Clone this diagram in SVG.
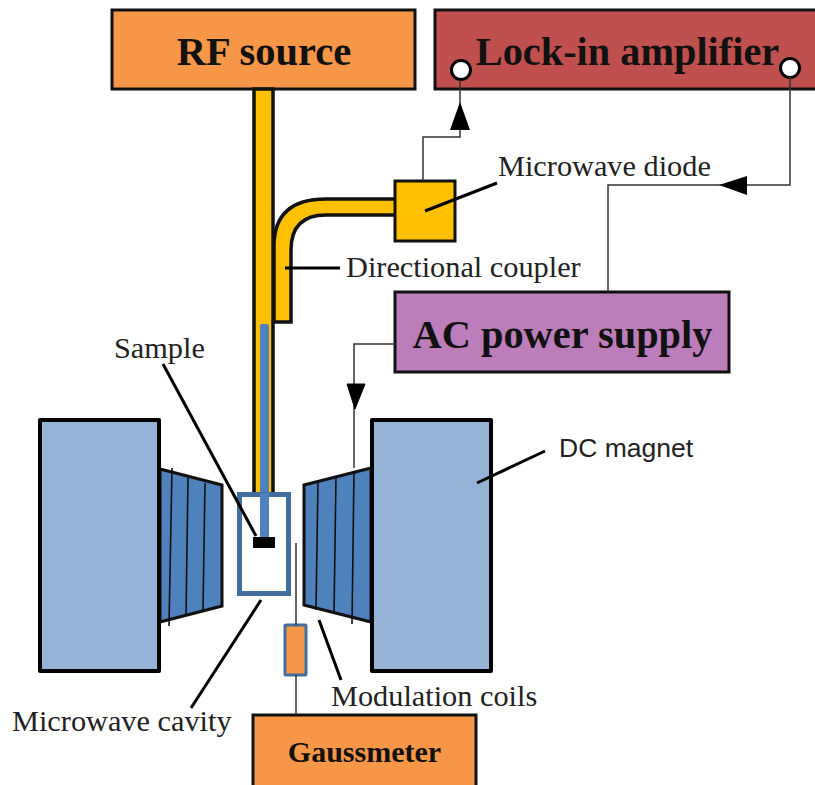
<svg xmlns="http://www.w3.org/2000/svg" width="815" height="785" viewBox="0 0 815 785">
<style>
text{font-family:"Liberation Serif",serif;fill:#222}
.b{font-weight:bold;fill:#111}
.k{fill:none;stroke:#000;stroke-width:3}
.t{fill:none;stroke:#333;stroke-width:1.5}
.box{stroke:#111;stroke-width:3}
.mag{fill:#95b3d7;stroke:#000;stroke-width:4;stroke-linejoin:round}
.pole{fill:#4f81bd;stroke:#111;stroke-width:3;stroke-linejoin:miter}
.w{fill:none;stroke:#111;stroke-width:1.6}
.port{fill:#fff;stroke:#000;stroke-width:3}
.wg{fill:#ffc000;stroke:#111;stroke-width:3.5}
</style>
<rect width="815" height="785" fill="#fff"/>
<g id="rf-source"><rect class="box" x="112" y="10" width="303" height="79" fill="#f79646"/><text class="b" x="264" y="65" font-size="40.5" text-anchor="middle">RF source</text></g>
<g id="lock-in"><rect class="box" x="435" y="10" width="382" height="79" fill="#c0504d"/><text class="b" x="627.5" y="65" font-size="40.3" text-anchor="middle">Lock-in amplifier</text><circle class="port" cx="461" cy="70" r="9.5"/><circle class="port" cx="790" cy="68" r="9.5"/></g>
<g id="waveguide">
<path class="wg" d="M274 322V246Q274 199 326 199H396V215H326Q291 215 291 250V322H274Z"/>
<rect class="wg" x="254" y="89" width="19" height="405"/>
<rect x="260" y="324" width="9" height="171" rx="2" fill="#4f81bd"/>
</g>
<g id="microwave-diode"><rect class="box" x="395" y="181" width="60" height="60" fill="#ffc000"/></g>
<g id="ac-supply"><rect class="box" x="395" y="292" width="334" height="80" fill="#bc7dbb"/><text class="b" x="562.5" y="348" font-size="40.4" text-anchor="middle">AC power supply</text></g>
<g id="left-magnet">
<path class="pole" d="M160 469L222 485V606L160 622Z"/>
<path class="w" d="M172 468L169 626M188 478L186 616M205 483L203 610"/>
<rect class="mag" x="40" y="420" width="119" height="251"/>
</g>
<g id="right-magnet">
<path class="pole" d="M304 485L371 468V622L304 605Z"/>
<path class="w" d="M318 480L316 610M336 476L334 614M354 471L352 624"/>
<rect class="mag" x="372" y="420" width="119" height="251"/>
</g>
<g id="cavity">
<rect x="239.5" y="494.5" width="49" height="99" fill="#fff" stroke="#416e9f" stroke-width="5"/>
<rect x="260" y="493" width="9" height="45" fill="#4f81bd"/>
<rect x="253" y="537" width="22" height="11" fill="#000"/>
</g>
<g id="probe"><rect x="285" y="625" width="21" height="50" rx="1" fill="#f79646" stroke="#416e9f" stroke-width="3"/></g>
<g id="gaussmeter"><rect class="box" x="253" y="715" width="223" height="80" fill="#f79646"/><text class="b" x="364.5" y="762" font-size="30" text-anchor="middle">Gaussmeter</text></g>
<g id="connectors">
<path class="t" d="M423 181V137H460V80"/>
<path d="M460 102L450 130H470Z" fill="#000"/>
<path class="t" d="M608 292V185H790V77"/>
<path d="M719 185L747 176V195Z" fill="#000"/>
<path class="t" d="M395 344H354V468"/>
<path d="M347 384H365L355 409Z" fill="#000" stroke="#000"/>
<path class="t" d="M296 543V625M296 675V715"/>
<path class="k" d="M425 211L497 183"/>
<path class="k" d="M285 268H340"/>
<path class="k" d="M163 364L256 536"/>
<path class="k" d="M261 600L191 708"/>
<path class="k" d="M319 620L341 680"/>
<path class="k" d="M477 483L545 451"/>
</g>
<g id="labels" font-size="30.3">
<text x="498" y="176">Microwave diode</text>
<text x="346" y="277">Directional coupler</text>
<text x="114" y="358">Sample</text>
<text x="12" y="731">Microwave cavity</text>
<text x="331" y="706">Modulation coils</text>
<text x="559" y="457" style="font-family:'Liberation Sans',sans-serif;font-size:26.5px">DC magnet</text>
</g>
</svg>
